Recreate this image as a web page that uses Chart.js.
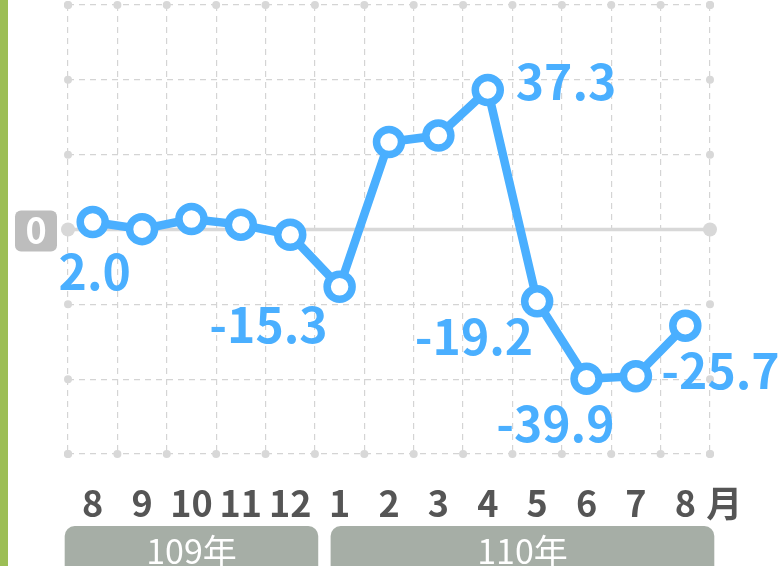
<!DOCTYPE html>
<html lang="zh-Hant">
<head>
<meta charset="UTF-8">
<title>月增率</title>
<style>
  html, body { margin: 0; padding: 0; background: #fff; }
  #wrap { position: relative; width: 778px; height: 566px; }
</style>
</head>
<body>
<div id="wrap"><canvas id="chart"></canvas></div>
<script src="https://cdn.jsdelivr.net/npm/chart.js"></script>
<script>
  // data
  const months = ['8', '9', '10', '11', '12', '1', '2', '3', '4', '5', '6', '7', '8'];
  const values = [2.0, 0.1, 2.8, 1.3, -1.4, -15.3, 23.4, 25.1, 37.3, -19.2, -39.9, -39.2, -25.7];
  const labelledPoints = [0, 5, 8, 9, 10, 12];
  const yearNames = ['109年', '110年'];
  const yearFirst = [0, 5];
  const yearLast = [4, 12];
  const yMin = -60, yMax = 60, yStep = 20;

  // styling
  const BLUE = '#4AAFFF';
  const GRID = '#d4d4d4';
  const FONT = '"Noto Sans CJK TC", "Noto Sans", sans-serif';
  // where each value label sits relative to its point
  const labelPlace = {
    0:  { dx: 2,   dy: 68, align: 'center' },
    5:  { dx: -12, dy: 56, align: 'right' },
    8:  { dx: 28,  dy: 10, align: 'left' },
    9:  { dx: -4,  dy: 54, align: 'right' },
    10: { dx: 28,  dy: 63, align: 'right' },
    12: { dx: -24, dy: 63, align: 'left' }
  };
  const yearPad = [[28, 28], [9, 29]];

  const decorations = {
    id: 'decorations',
    beforeDraw(chart) {
      const { ctx, scales: { x } } = chart;
      ctx.save();
      // green side bar
      ctx.fillStyle = '#9CBE55';
      ctx.fillRect(0, 0, 8, chart.height);
      // year boxes
      yearNames.forEach((name, i) => {
        const l = x.getPixelForValue(yearFirst[i]) - yearPad[i][0];
        const r = x.getPixelForValue(yearLast[i]) + yearPad[i][1];
        ctx.fillStyle = '#A6AEA6';
        ctx.beginPath();
        ctx.roundRect(l, 526, r - l, 60, 10);
        ctx.fill();
        ctx.fillStyle = '#fff';
        ctx.font = '34px ' + FONT;
        ctx.textAlign = 'center';
        ctx.textBaseline = 'alphabetic';
        ctx.fillText(name, (l + r) / 2, 564);
      });
      ctx.restore();
    },
    beforeDatasetsDraw(chart) {
      const { ctx, chartArea: a, scales: { x, y } } = chart;
      const y0 = y.getPixelForValue(0);
      ctx.save();
      // zero line
      ctx.strokeStyle = '#d8d8d8';
      ctx.lineWidth = 3.5;
      ctx.beginPath();
      ctx.moveTo(a.left, y0);
      ctx.lineTo(a.right, y0);
      ctx.stroke();
      // dots on the frame
      ctx.fillStyle = '#d8d8d8';
      const dot = (px, py, r) => { ctx.beginPath(); ctx.arc(px, py, r, 0, Math.PI * 2); ctx.fill(); };
      for (let v = yMin; v <= yMax; v += yStep) {
        const py = y.getPixelForValue(v);
        const r = v === 0 ? 7 : 4;
        dot(a.left, py, r);
        dot(a.right, py, r);
      }
      for (let i = 0; i <= months.length; i++) {
        const px = x.getPixelForValue(i - 0.5);
        dot(px, a.top, 4);
        dot(px, a.bottom, 4);
      }
      // "0" badge
      ctx.fillStyle = '#BDBDBD';
      ctx.beginPath();
      ctx.roundRect(15, y0 - 19, 42, 41, 6);
      ctx.fill();
      ctx.fillStyle = '#fff';
      ctx.font = 'bold 36px ' + FONT;
      ctx.textAlign = 'center';
      ctx.textBaseline = 'alphabetic';
      ctx.fillText('0', 36, y0 + 14);
      ctx.restore();
    },
    afterDatasetsDraw(chart) {
      const { ctx, scales: { x } } = chart;
      const pts = chart.getDatasetMeta(0).data;
      ctx.save();
      ctx.fillStyle = BLUE;
      ctx.font = 'bold 48px ' + FONT;
      ctx.textBaseline = 'alphabetic';
      labelledPoints.forEach(i => {
        const p = labelPlace[i];
        ctx.textAlign = p.align;
        ctx.fillText(values[i].toFixed(1), pts[i].x + p.dx, pts[i].y + p.dy);
      });
      // unit after the last month
      ctx.fillStyle = '#555';
      ctx.font = 'bold 36px ' + FONT;
      ctx.textAlign = 'center';
      ctx.fillText('月', x.getPixelForValue(months.length - 1) + 39, 517);
      ctx.restore();
    }
  };

  new Chart(document.getElementById('chart'), {
    type: 'line',
    data: {
      labels: months,
      datasets: [{
        data: values,
        borderColor: BLUE,
        borderWidth: 8.5,
        pointRadius: 12.5,
        pointBorderWidth: 7.5,
        pointBackgroundColor: '#fff',
        pointBorderColor: BLUE,
        tension: 0,
        clip: false
      }]
    },
    options: {
      responsive: true,
      maintainAspectRatio: false,
      animation: false,
      layout: { autoPadding: false, padding: { left: 68, right: 68, top: 5, bottom: 0 } },
      plugins: { legend: { display: false }, tooltip: { enabled: false } },
      scales: {
        x: {
          offset: true,
          grid: { offset: true, color: GRID, lineWidth: 1.2, drawTicks: false },
          border: { display: false, dash: [6, 5] },
          ticks: {
            color: '#555',
            font: { family: FONT, size: 36, weight: 'bold' },
            padding: 28,
            maxRotation: 0,
            autoSkip: false
          },
          afterFit(scale) { scale.height = 112; }
        },
        y: {
          min: yMin,
          max: yMax,
          ticks: { display: false, stepSize: yStep },
          grid: {
            color: c => c.tick && c.tick.value === 0 ? 'transparent' : GRID,
            lineWidth: 1.2,
            drawTicks: false
          },
          border: { display: false, dash: [6, 5] },
          afterFit(scale) { scale.width = 0; }
        }
      }
    },
    plugins: [decorations]
  });
</script>
</body>
</html>
